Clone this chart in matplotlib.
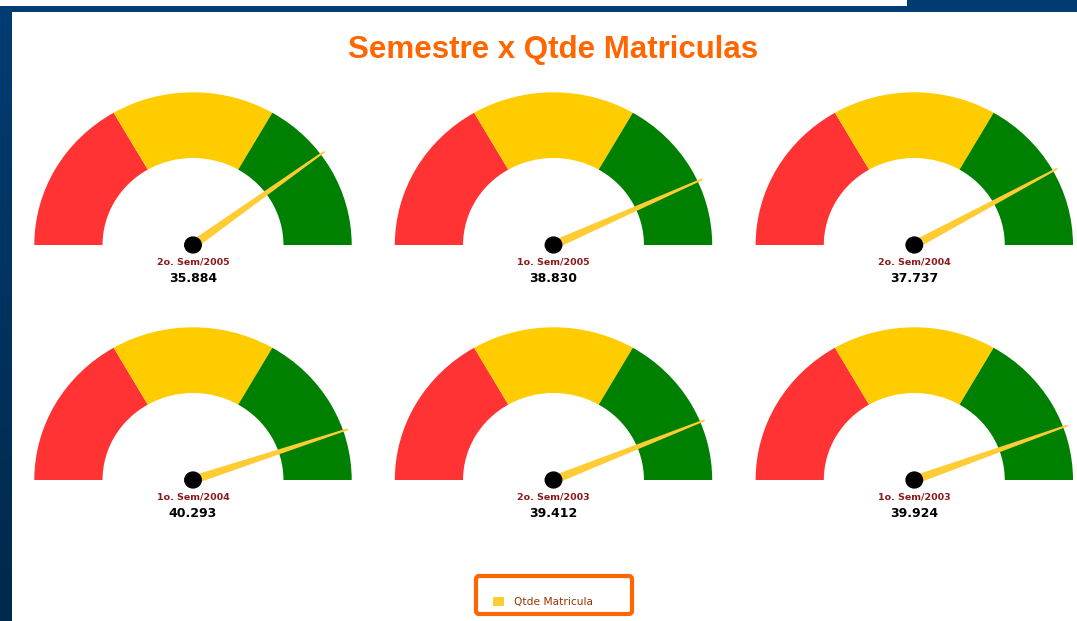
import numpy as np
import matplotlib.pyplot as plt
from matplotlib.patches import Wedge, Circle, Polygon, Rectangle, FancyBboxPatch
from matplotlib.colors import LinearSegmentedColormap

# dados
semestres = ["2o. Sem/2005", "1o. Sem/2005", "2o. Sem/2004",
             "1o. Sem/2004", "2o. Sem/2003", "1o. Sem/2003"]
matriculas = [35884, 38830, 37737, 40293, 39412, 39924]
faixas = [0, 15000, 30000, 45000]
cores_faixas = ["#FF3333", "#FFCC00", "#008000"]
legenda = "Qtde Matricula"

W, H = 1077, 621
fig = plt.figure(figsize=(W / 100, H / 100), dpi=100)
fig.patch.set_facecolor("white")

# fundo / moldura
bg = fig.add_axes([0, 0, 1, 1])
bg.set_xlim(0, W)
bg.set_ylim(H, 0)
bg.axis("off")
grad = np.linspace(0, 1, 200).reshape(-1, 1)
cmap = LinearSegmentedColormap.from_list("borda", ["#003c72", "#00294b"])
bg.imshow(grad, cmap=cmap, extent=(0, 12, H, 6), aspect="auto", zorder=1)
bg.add_patch(Rectangle((0, 6), W, 6, color="#003c72", lw=0, zorder=2))
bg.add_patch(Rectangle((907, 0), W - 907, 12, color="#003c72", lw=0, zorder=2))
bg.set_xlim(0, W)
bg.set_ylim(H, 0)

bg.text(553, 58, "Semestre x Qtde Matriculas", ha="center", va="baseline",
        fontsize=22.5, fontweight="bold", color="#FF6600", family="Liberation Sans")

# legenda
bg.add_patch(FancyBboxPatch((476, 576), 156, 38, boxstyle="round,pad=0,rounding_size=3",
                            fill=False, ec="#FF6600", lw=3, zorder=3))
bg.add_patch(Rectangle((493, 597), 11, 9, color="#FFCC33", lw=0, zorder=3))
bg.text(514, 601.5, legenda, ha="left", va="center", fontsize=7.7, color="#993300")

# medidores
centros_x = [193, 553.5, 914.3]
centros_y = [245, 480]
RX, RY = 158.7, 152.7
vmax = faixas[-1]

for i, (rotulo, valor) in enumerate(zip(semestres, matriculas)):
    cx = centros_x[i % 3]
    cy = centros_y[i // 3]
    ax = fig.add_axes([(cx - 162) / W, (H - (cy + 45)) / H, 324 / W, 205 / H])
    ax.set_xlim(-162 / RX, 162 / RX)
    ax.set_ylim(-45 / RY, 160 / RY)
    ax.axis("off")
    ax.patch.set_alpha(0)

    for k in range(3):
        t1 = 180 * (1 - faixas[k + 1] / vmax)
        t2 = 180 * (1 - faixas[k] / vmax)
        ax.add_patch(Wedge((0, 0), 1, t1, t2, width=0.43, color=cores_faixas[k], lw=0))

    ang = np.radians(180 * (1 - valor / vmax))
    c, s = np.cos(ang), np.sin(ang)
    wb, wt, r = 0.028, 0.006, 1.03
    ponteiro = [(-wb * s, wb * c), (r * c - wt * s, r * s + wt * c),
                (r * c + wt * s, r * s - wt * c), (wb * s, -wb * c)]
    ax.add_patch(Polygon(ponteiro, closed=True, color="#FFCC33", lw=0, zorder=4))
    ax.add_patch(Circle((0, 0), 0.052, color="black", zorder=5))

    ax.text(0, -16.7 / RY, rotulo, ha="center", va="center", fontsize=6.8,
            fontweight="bold", color="#8B1A1A")
    ax.text(0, -33.5 / RY, f"{valor:,}".replace(",", "."), ha="center", va="center",
            fontsize=9, fontweight="bold", color="black")

fig.savefig("out.png", dpi=100)
